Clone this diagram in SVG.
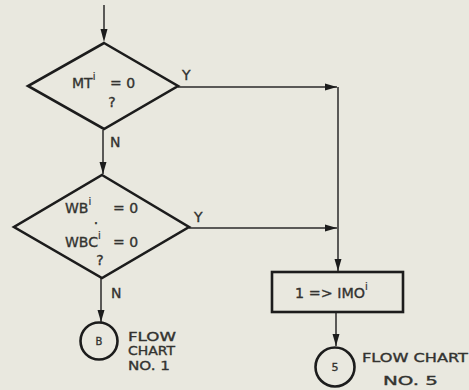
<svg xmlns="http://www.w3.org/2000/svg" width="469" height="390" viewBox="0 0 469 390">
<style>
.shape{fill:none;stroke:#1c1c1c;stroke-width:2.6}
.conn{fill:none;stroke:#2a2a2a;stroke-width:1.5}
.head{fill:#1c1c1c}
.t{font-family:"DejaVu Sans","Liberation Sans",sans-serif;font-size:14px;fill:#333330;stroke:#333330;stroke-width:0.35}
.s{font-size:10px;stroke-width:0.2}
.lbl{font-size:12px}
</style>
<defs>
<marker id="ah" viewBox="0 0 12 8" refX="12" refY="4" markerWidth="12" markerHeight="8" markerUnits="userSpaceOnUse" orient="auto">
<path d="M0,0.5 L12,4 L0,7.5 Z" fill="#1c1c1c"/>
</marker>
</defs>
<rect width="469" height="390" fill="#e9e8df"/>
<g id="connectors">
<path class="conn" d="M104,5 L104,32"/>
<polygon class="head" points="100.5,29 107.5,29 104,42"/>
<path class="conn" d="M103,130 V174" marker-end="url(#ah)"/>
<path class="conn" d="M101,278 V322" marker-end="url(#ah)"/>
<path class="conn" d="M178,87 H337" marker-end="url(#ah)"/>
<path class="conn" d="M189,228 H337" marker-end="url(#ah)"/>
<path class="conn" d="M338,87 V271" marker-end="url(#ah)"/>
<path class="conn" d="M336,313 V346" marker-end="url(#ah)"/>
<text class="t" x="182" y="80">Y</text>
<text class="t" x="110" y="147">N</text>
<text class="t" x="194" y="222">Y</text>
<text class="t" x="111" y="298">N</text>
</g>
<g id="decision1">
<polygon class="shape" points="104,43 178,86 104,129 28,86"/>
<text class="t" x="72" y="88">MT<tspan class="s" dy="-8">i</tspan><tspan dy="8" x="110">= 0</tspan></text>
<text class="t" x="112" y="107" text-anchor="middle">?</text>
</g>
<g id="decision2">
<polygon class="shape" points="102,175 189,227 102,278 14,227"/>
<text class="t" x="65" y="213">WB<tspan class="s" dy="-8">i</tspan><tspan dy="8" x="113">= 0</tspan></text>
<text class="t" x="96" y="224" text-anchor="middle">.</text>
<text class="t" x="65" y="247">WBC<tspan class="s" dy="-8">i</tspan><tspan dy="8" x="113">= 0</tspan></text>
<text class="t" x="100" y="265" text-anchor="middle">?</text>
</g>
<g id="connectorB">
<circle class="shape" cx="99" cy="341" r="18.5"/>
<text class="t" x="99" y="345" text-anchor="middle" style="font-size:10px">B</text>
<text class="t lbl" x="128" y="341" textLength="48" lengthAdjust="spacingAndGlyphs">FLOW</text>
<text class="t lbl" x="128" y="355" textLength="47" lengthAdjust="spacingAndGlyphs">CHART</text>
<text class="t lbl" x="128" y="370" textLength="42" lengthAdjust="spacingAndGlyphs">NO. 1</text>
</g>
<g id="process">
<rect class="shape" x="272" y="272" width="131" height="40"/>
<text class="t" x="295" y="298"><tspan textLength="70" lengthAdjust="spacingAndGlyphs">1 =&gt; IMO</tspan><tspan class="s" dy="-8">i</tspan></text>
</g>
<g id="connector5">
<circle class="shape" cx="335" cy="367" r="19.5"/>
<text class="t" x="335" y="371" text-anchor="middle" style="font-size:11px">5</text>
<text class="t lbl" x="362" y="362" textLength="106" lengthAdjust="spacingAndGlyphs">FLOW CHART</text>
<text class="t lbl" x="383" y="385" textLength="55" lengthAdjust="spacingAndGlyphs">NO. 5</text>
</g>
</svg>
